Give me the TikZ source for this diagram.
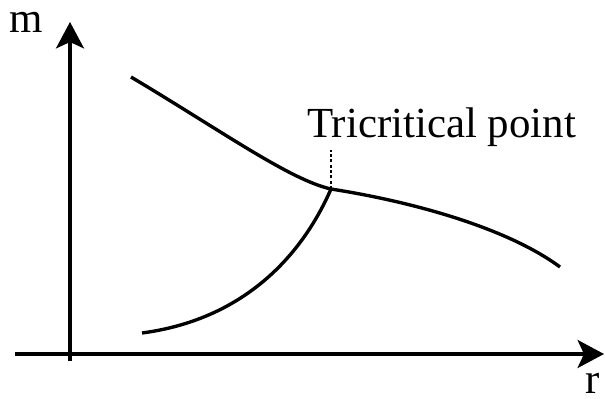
\documentclass[tikz,border=0pt]{standalone}
\usepackage{fontspec}
\setmainfont{Liberation Serif}
\usetikzlibrary{arrows.meta}

\begin{document}
\begin{tikzpicture}[x=0.025cm, y=-0.025cm,
                    axis/.style={line width=2.4pt, -{Stealth[length=0.66cm, width=0.7cm, inset=0.16cm]}},
                    curve/.style={line width=2.4pt},
                    lbl/.style={font=\fontsize{30.5}{36}\selectfont, inner sep=0pt}]
                \useasboundingbox (0,0) rectangle (605,399);
                \coordinate (xs) at (15,354);
                \coordinate (xe) at (604,354);
                \coordinate (ys) at (70,361);
                \coordinate (ye) at (70,22);
                \coordinate (tcp) at (331,189);
                \coordinate (up) at (131,77);
                \coordinate (lo) at (142,333);
                \coordinate (rt) at (560,267);
                \coordinate (dt) at (331,150);
                \draw[axis] (xs) -- (xe);
                \draw[axis] (ys) -- (ye);
                \node[lbl, anchor=base west] (mlab) at (9,33) {m};
                \node[lbl, anchor=base west] (rlab) at (585,393) {r};
                \draw[curve] (up) .. controls (220,130) and (290,180) .. (tcp);
                \draw[curve] (tcp) .. controls (420,203) and (510,230) .. (rt);
                \draw[curve] (lo) .. controls (240,320) and (300,260) .. (tcp);
                \draw[line width=1.8pt, dash pattern=on 2pt off 1.8pt] (tcp) -- (dt);
                \node[lbl, anchor=base west] (tlab) at (307,138) {Tricritical point};
            \end{tikzpicture}
\end{document}
